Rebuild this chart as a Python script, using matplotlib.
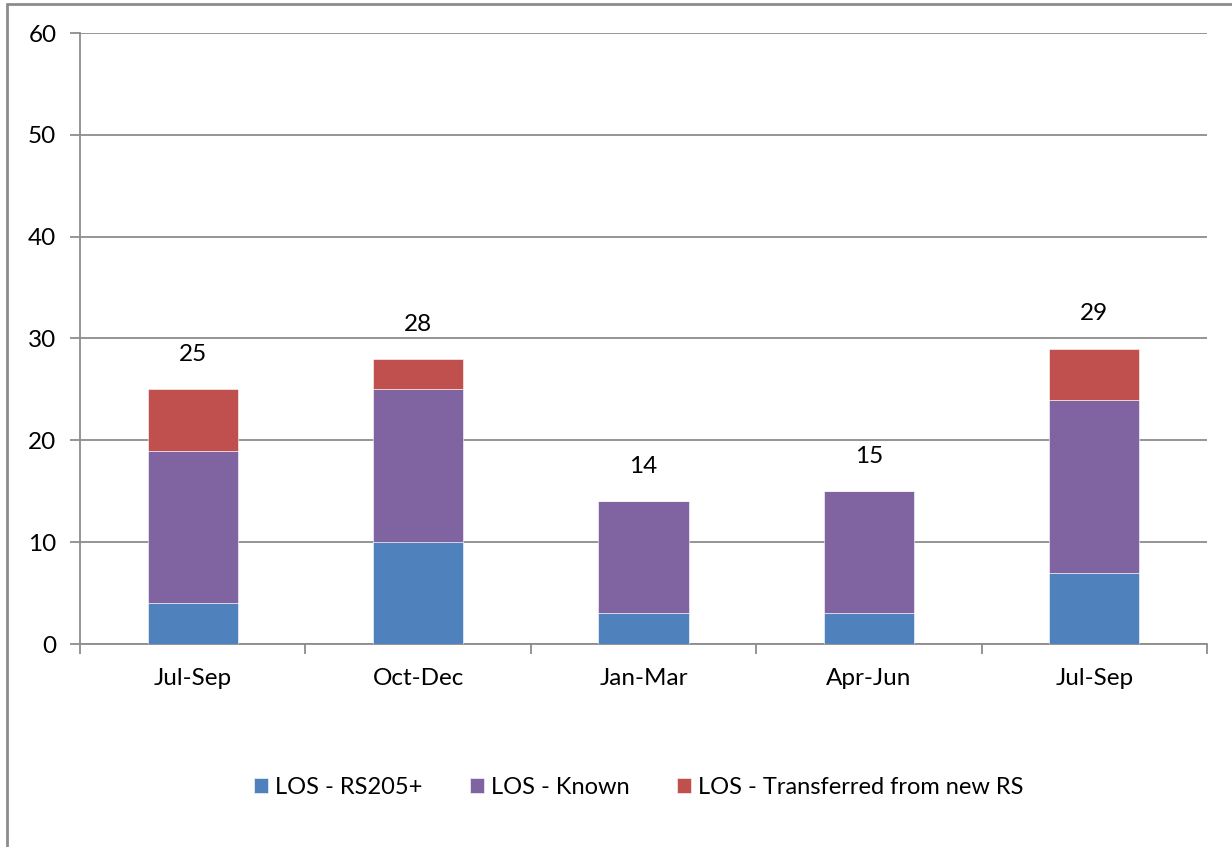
import numpy as np
import matplotlib
matplotlib.use('Agg')
import matplotlib.pyplot as plt
from matplotlib.patches import Rectangle

plt.rcParams['font.family'] = ['Lato', 'DejaVu Sans']

# Data
quarters = ['Jul-Sep', 'Oct-Dec', 'Jan-Mar', 'Apr-Jun', 'Jul-Sep']
rs205 = [4, 10, 3, 3, 7]
known = [15, 15, 11, 12, 17]
transferred = [6, 3, 0, 0, 5]
labels = ['LOS - RS205+', 'LOS - Known', 'LOS - Transferred from new RS']
colors = ['#4F81BD', '#8064A2', '#C0504D']

fs = 17.5

fig = plt.figure(figsize=(12.32, 8.47), dpi=100)
ax = fig.add_axes([80 / 1232, 1 - 644 / 847, 1127 / 1232, 611 / 847])

# outer chart frame
fig.patches.append(Rectangle((7 / 1232, -0.1), 1.2, 1 - 4 / 847 + 0.1,
                             transform=fig.transFigure, fill=False,
                             edgecolor='#8c8c8c', linewidth=2))

x = np.arange(len(quarters))
bottom = np.zeros(len(quarters))
for vals, lab, col in zip([rs205, known, transferred], labels, colors):
    ax.bar(x, vals, width=0.4, bottom=bottom, color=col, label=lab,
           edgecolor='white', linewidth=0.4, zorder=3)
    bottom += np.array(vals)

# totals above bars
for xi, tot in zip(x, bottom):
    ax.annotate(f'{int(tot)}', (xi, tot), xytext=(0, 25), textcoords='offset points',
                ha='center', va='center', fontsize=fs)

ax.set_xlim(-0.5, len(quarters) - 0.5)
ax.set_ylim(0, 60)
ax.set_yticks(range(0, 61, 10))
ax.yaxis.grid(True, color='#8c8c8c', linewidth=1.3, zorder=0)
ax.set_axisbelow(True)

for s in ['top', 'right']:
    ax.spines[s].set_visible(False)
for s in ['left', 'bottom']:
    ax.spines[s].set_color('#8c8c8c')
    ax.spines[s].set_linewidth(1.3)

ax.set_xticks(x)
ax.set_xticklabels(quarters, fontsize=fs)
ax.tick_params(axis='x', length=0, pad=17)
ax.set_xticks(np.arange(-0.5, len(quarters), 1), minor=True)
ax.tick_params(axis='x', which='minor', length=7, color='#8c8c8c', width=1.3)
ax.tick_params(axis='y', length=7, color='#8c8c8c', width=1.3, labelsize=fs, pad=10)

fig.legend(loc='center', bbox_to_anchor=(639 / 1232, 1 - 787 / 847), ncol=3,
           frameon=False, fontsize=17, handlelength=0.6, handleheight=0.6,
           handletextpad=0.3, columnspacing=2.0)

fig.savefig('out.png', dpi=100)
